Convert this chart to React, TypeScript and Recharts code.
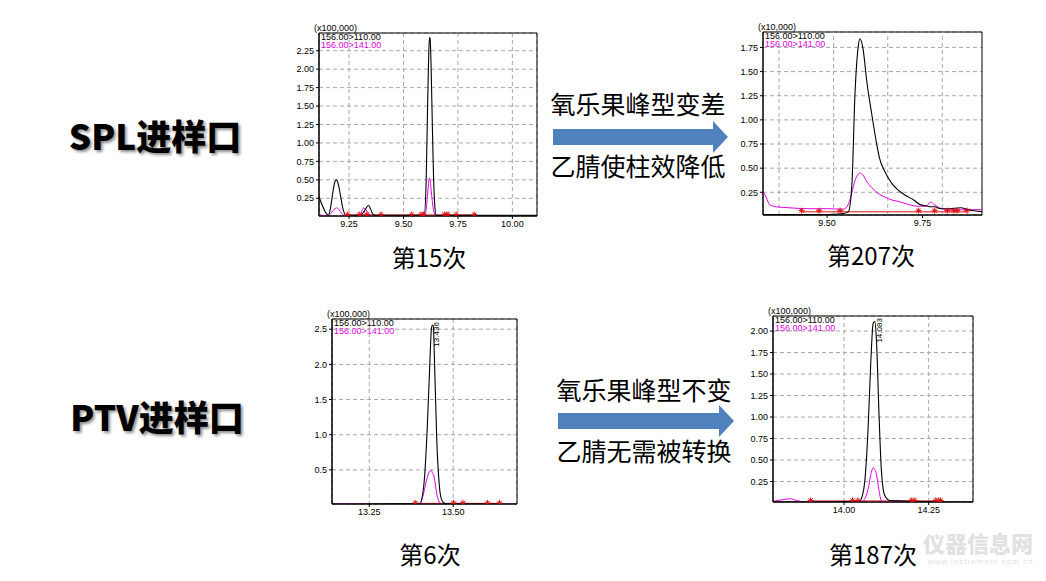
import React from "react";
import {
  ComposedChart,
  Line,
  Scatter,
  XAxis,
  YAxis,
  CartesianGrid,
  ReferenceArea,
  ReferenceLine,
} from "recharts";

// ---------- shared text ----------
const LEGEND_110 = "156.00>110.00";
const LEGEND_141 = "156.00>141.00";

// ---------- SPL 第15次 ----------
const spl15Time = [9.112, 9.125, 9.14, 9.155, 9.165, 9.175, 9.186, 9.193, 9.2, 9.21, 9.221, 9.236, 9.3, 9.31, 9.316, 9.325, 9.339, 9.348, 9.358, 9.37, 9.595, 9.604, 9.61, 9.615, 9.619, 9.622, 9.627, 9.632, 9.637, 9.643, 9.65, 10.113];
const spl15Ion110 = [0.27, 0.17, 0.07, 0.02, 0.12, 0.32, 0.48, 0.5, 0.45, 0.3, 0.12, 0.02, 0.02, 0.04, 0.06, 0.1, 0.155, 0.11, 0.04, 0.02, 0.02, 0.48, 1.4, 2.1, 2.43, 2.42, 2.0, 1.3, 0.65, 0.18, 0.02, 0.02];
const spl15Ion141 = [0.03, 0.02, 0.01, 0.01, 0.04, 0.08, 0.11, 0.12, 0.11, 0.07, 0.03, 0.01, 0.02, 0.09, 0.12, 0.1, 0.05, 0.02, 0.01, 0.01, 0.01, 0.1, 0.28, 0.45, 0.525, 0.51, 0.36, 0.22, 0.1, 0.04, 0.01, 0.01];
const spl15Marks = [9.244, 9.297, 9.331, 9.397, 9.538, 9.58, 9.592, 9.687, 9.696, 9.705, 9.742, 9.825];
const spl15XTicks = [9.25, 9.5, 9.75, 10.0];
const spl15YTicks = [0.25, 0.5, 0.75, 1.0, 1.25, 1.5, 1.75, 2.0, 2.25];

// ---------- SPL 第207次 ----------
const spl207Time = [9.332, 9.34, 9.35, 9.367, 9.4, 9.45, 9.5, 9.543, 9.556, 9.565, 9.573, 9.582, 9.586, 9.594, 9.604, 9.617, 9.63, 9.637, 9.652, 9.67, 9.687, 9.705, 9.727, 9.745, 9.76, 9.771, 9.782, 9.797, 9.82, 9.85, 9.87, 9.906];
const spl207Ion110 = [0.02, 0.02, 0.02, 0.02, 0.02, 0.02, 0.02, 0.03, 0.05, 0.33, 1.26, 1.77, 1.84, 1.74, 1.4, 1.06, 0.75, 0.61, 0.46, 0.34, 0.27, 0.22, 0.17, 0.12, 0.11, 0.1, 0.1, 0.08, 0.08, 0.09, 0.07, 0.05];
const spl207Ion141 = [0.26, 0.2, 0.12, 0.1, 0.09, 0.08, 0.08, 0.075, 0.13, 0.25, 0.37, 0.44, 0.45, 0.43, 0.36, 0.3, 0.25, 0.23, 0.2, 0.17, 0.155, 0.135, 0.11, 0.105, 0.105, 0.15, 0.12, 0.085, 0.07, 0.07, 0.07, 0.07];
const spl207Marks = [9.433, 9.479, 9.534, 9.74, 9.782, 9.815, 9.832, 9.841, 9.867];
const spl207XTicks = [9.5, 9.75];
const spl207XGrid = [9.374, 9.517, 9.659, 9.802];
const spl207YTicks = [0.25, 0.5, 0.75, 1.0, 1.25, 1.5, 1.75];

// ---------- PTV 第6次 ----------
const ptv6Time = [13.139, 13.15, 13.4, 13.412, 13.422, 13.43, 13.435, 13.438, 13.441, 13.444, 13.451, 13.459, 13.466, 13.476, 13.69];
const ptv6Ion110 = [0.01, 0.01, 0.02, 0.26, 1.02, 1.97, 2.5, 2.56, 2.54, 2.1, 0.93, 0.26, 0.07, 0.02, 0.01];
const ptv6Ion141 = [0.04, 0.015, 0.01, 0.17, 0.38, 0.48, 0.49, 0.46, 0.43, 0.38, 0.16, 0.04, 0.015, 0.01, 0.01];
const ptv6Marks = [13.387, 13.501, 13.529, 13.602, 13.638];
const ptv6XTicks = [13.25, 13.5];
const ptv6YTicks = [0.5, 1.0, 1.5, 2.0, 2.5];

// ---------- PTV 第187次 ----------
const ptv187Time = [13.79, 13.82, 13.84, 13.86, 13.88, 14.045, 14.055, 14.061, 14.071, 14.079, 14.086, 14.091, 14.096, 14.103, 14.11, 14.12, 14.135, 14.381];
const ptv187Ion110 = [0.01, 0.01, 0.01, 0.01, 0.01, 0.02, 0.1, 0.245, 0.87, 1.64, 2.09, 2.11, 1.87, 1.06, 0.4, 0.09, 0.03, 0.01];
const ptv187Ion141 = [0.02, 0.04, 0.05, 0.03, 0.015, 0.01, 0.02, 0.05, 0.16, 0.33, 0.41, 0.39, 0.33, 0.15, 0.03, 0.01, 0.01, 0.01];
const ptv187Marks = [13.901, 14.025, 14.041, 14.199, 14.209, 14.271, 14.28, 14.285];
const ptv187XTicks = [14.0, 14.25];
const ptv187YTicks = [0.25, 0.5, 0.75, 1.0, 1.25, 1.5, 1.75, 2.0];

const BLACK = "#000000";
const PINK = "#e000e0";
const RED = "#e01010";
const TICK_FONT = "'Liberation Sans', Arial, sans-serif";
const CJK = "'Noto Sans CJK SC', 'Noto Sans', sans-serif";

const zip = (t: number[], v: number[]) => t.map((x, i) => ({ t: x, v: v[i] }));
const minorTicks = (lo: number, hi: number, step: number) => {
  const out: number[] = [];
  for (let k = Math.ceil(lo / step); k * step <= hi; k++) out.push(+(k * step).toFixed(4));
  return out;
};

const Asterisk = (p: any) => {
  const { cx, cy } = p;
  if (cx == null || cy == null) return <g />;
  const s = 3;
  const d = 2.1;
  return (
    <g stroke={RED} strokeWidth={1}>
      <line x1={cx - s} y1={cy} x2={cx + s} y2={cy} />
      <line x1={cx} y1={cy - s} x2={cx} y2={cy + s} />
      <line x1={cx - d} y1={cy - d} x2={cx + d} y2={cy + d} />
      <line x1={cx - d} y1={cy + d} x2={cx + d} y2={cy - d} />
    </g>
  );
};

const makePeakLabel = (text: string) => (p: any) => {
  const { cx, cy } = p;
  if (cx == null || cy == null) return <g />;
  return (
    <text
      transform={`translate(${cx + 7},${cy}) rotate(-90)`}
      fontSize={8}
      fontFamily={TICK_FONT}
      fill="#000"
      textAnchor="end"
    >
      {text}
    </text>
  );
};

type ChartProps = {
  box: { l: number; t: number; r: number; b: number };
  xDomain: [number, number];
  yDomain: [number, number];
  xTicks: number[];
  yTicks: number[];
  yDigits: number;
  xGrid?: number[];
  time: number[];
  ion110: number[];
  ion141: number[];
  marks: number[];
  markY: number;
  minorStep: number;
  scaleLabel: string;
  peak?: { t: number; v: number; text: string };
};

const Chromatogram = (props: ChartProps) => {
  const { box, xDomain, yDomain, xTicks, yTicks, yDigits, xGrid, time, ion110, ion141, marks, markY, minorStep, scaleLabel, peak } = props;
  const yW = 30;
  const top = 5;
  const xH = 18;
  const right = 2;
  const width = box.r - box.l + yW + right;
  const height = box.b - box.t + top + xH;
  const black = zip(time, ion110);
  const pink = zip(time, ion141);
  const markData = marks.map((t) => ({ t, v: markY }));
  const redLine = [
    { t: marks[0], v: markY * 0.8 },
    { t: marks[marks.length - 1], v: markY * 0.8 },
  ];
  const minor = minorTicks(yDomain[0], yDomain[1], minorStep);
  const txt = { fontSize: 9, fontFamily: TICK_FONT, lineHeight: "9px", whiteSpace: "nowrap" as const, position: "absolute" as const };
  return (
    <>
      <div style={{ ...txt, left: box.l - 5, top: box.t - 9, color: "#000" }}>{scaleLabel}</div>
      <div style={{ ...txt, left: box.l + 2, top: box.t + 0, color: "#000" }}>{LEGEND_110}</div>
      <div style={{ ...txt, left: box.l + 2, top: box.t + 8, color: PINK }}>{LEGEND_141}</div>
      <div style={{ position: "absolute", left: box.l - yW, top: box.t - top }}>
        <ComposedChart width={width} height={height} margin={{ top, right, bottom: 0, left: 0 }}>
          <CartesianGrid
            stroke="#a8a8a8"
            strokeDasharray="4 3"
            vertical={!xGrid}
          />
          <XAxis
            dataKey="t"
            type="number"
            domain={xDomain}
            allowDataOverflow
            ticks={xTicks}
            tickFormatter={(v: number) => v.toFixed(2)}
            height={xH}
            tickSize={3}
            tickMargin={2}
            stroke="#000"
            tick={{ fontSize: 9, fontFamily: TICK_FONT, fill: "#000" }}
            interval={0}
          />
          <YAxis
            type="number"
            domain={yDomain}
            allowDataOverflow
            ticks={yTicks}
            tickFormatter={(v: number) => v.toFixed(yDigits)}
            width={yW}
            tickSize={3}
            tickMargin={2}
            stroke="#000"
            tick={{ fontSize: 9, fontFamily: TICK_FONT, fill: "#000" }}
            interval={0}
          />
          <YAxis
            yAxisId="minor"
            type="number"
            domain={yDomain}
            allowDataOverflow
            ticks={minor}
            mirror
            width={0}
            tick={false}
            tickSize={2}
            axisLine={false}
            stroke="#000"
            interval={0}
          />
          {xGrid &&
            xGrid.map((g) => (
              <ReferenceLine key={g} x={g} stroke="#a8a8a8" strokeDasharray="4 3" />
            ))}
          <Line data={redLine} dataKey="v" stroke={RED} strokeWidth={1} dot={false} isAnimationActive={false} />
          <Line data={pink} dataKey="v" type="monotone" stroke={PINK} strokeWidth={1} dot={false} isAnimationActive={false} />
          <Line data={black} dataKey="v" type="monotone" stroke={BLACK} strokeWidth={1.1} dot={false} isAnimationActive={false} />
          <Scatter data={markData} dataKey="v" shape={Asterisk} isAnimationActive={false} />
          {peak && (
            <Scatter data={[{ t: peak.t, v: peak.v }]} dataKey="v" shape={makePeakLabel(peak.text)} isAnimationActive={false} />
          )}
          <ReferenceArea x1={xDomain[0]} x2={xDomain[1]} y1={yDomain[0]} y2={yDomain[1]} fill="none" stroke="#000" strokeWidth={1} />
        </ComposedChart>
      </div>
    </>
  );
};

const Arrow = ({ left, top, width }: { left: number; top: number; width: number }) => (
  <svg style={{ position: "absolute", left, top }} width={width} height={32}>
    <polygon
      points={`0,8 ${width - 15},8 ${width - 15},0 ${width},16 ${width - 15},32 ${width - 15},24 0,24`}
      fill="#4f81bd"
    />
  </svg>
);

const Label = ({ text, cx, cy, size, bold, shadow, color }: { text: string; cx: number; cy: number; size: number; bold?: boolean; shadow?: boolean; color?: string }) => (
  <div
    style={{
      position: "absolute",
      left: cx,
      top: cy - size / 2,
      transform: "translateX(-50%)",
      height: size,
      lineHeight: `${size}px`,
      fontFamily: CJK,
      fontSize: size,
      fontWeight: bold ? 900 : 400,
      color: color || "#000",
      whiteSpace: "nowrap",
      textShadow: shadow ? "2px 2px 3px rgba(0,0,0,0.45)" : undefined,
    }}
  >
    {text}
  </div>
);

export default function App() {
  return (
    <div style={{ position: "absolute", left: 0, top: 0, width: 1046, height: 581, background: "#fff", overflow: "hidden" }}>
      <Label text="SPL进样口" cx={155} cy={134} size={35} bold shadow />
      <Label text="PTV进样口" cx={157} cy={415} size={35} bold shadow />

      <Chromatogram
        box={{ l: 319, t: 33, r: 537, b: 216 }}
        xDomain={[9.112, 10.113]}
        yDomain={[0.01, 2.49]}
        xTicks={spl15XTicks}
        yTicks={spl15YTicks}
        yDigits={2}
        time={spl15Time}
        ion110={spl15Ion110}
        ion141={spl15Ion141}
        marks={spl15Marks}
        markY={0.03}
        minorStep={0.05}
        scaleLabel="(x100,000)"
      />
      <Chromatogram
        box={{ l: 763, t: 32, r: 982, b: 215 }}
        xDomain={[9.332, 9.906]}
        yDomain={[0.015, 1.91]}
        xTicks={spl207XTicks}
        yTicks={spl207YTicks}
        yDigits={2}
        xGrid={spl207XGrid}
        time={spl207Time}
        ion110={spl207Ion110}
        ion141={spl207Ion141}
        marks={spl207Marks}
        markY={0.06}
        minorStep={0.05}
        scaleLabel="(x10,000)"
      />
      <Chromatogram
        box={{ l: 332, t: 319, r: 517, b: 504 }}
        xDomain={[13.139, 13.69]}
        yDomain={[0.015, 2.645]}
        xTicks={ptv6XTicks}
        yTicks={ptv6YTicks}
        yDigits={1}
        time={ptv6Time}
        ion110={ptv6Ion110}
        ion141={ptv6Ion141}
        marks={ptv6Marks}
        markY={0.03}
        minorStep={0.1}
        scaleLabel="(x100,000)"
        peak={{ t: 13.438, v: 2.6, text: "13.436" }}
      />
      <Chromatogram
        box={{ l: 773, t: 316, r: 973, b: 502 }}
        xDomain={[13.79, 14.381]}
        yDomain={[0.012, 2.175]}
        xTicks={ptv187XTicks}
        yTicks={ptv187YTicks}
        yDigits={2}
        time={ptv187Time}
        ion110={ptv187Ion110}
        ion141={ptv187Ion141}
        marks={ptv187Marks}
        markY={0.03}
        minorStep={0.05}
        scaleLabel="(x100,000)"
        peak={{ t: 14.091, v: 2.15, text: "14.083" }}
      />

      <Label text="氧乐果峰型变差" cx={638} cy={103} size={25} />
      <Arrow left={553} top={121} width={175} />
      <Label text="乙腈使柱效降低" cx={638} cy={165} size={25} />

      <Label text="氧乐果峰型不变" cx={644} cy={389} size={25} />
      <Arrow left={558} top={405} width={176} />
      <Label text="乙腈无需被转换" cx={644} cy={450} size={25} />

      <Label text="第15次" cx={429} cy={257} size={24} />
      <Label text="第207次" cx={871} cy={255} size={24} />
      <Label text="第6次" cx={430} cy={554} size={24} />
      <Label text="第187次" cx={873} cy={554} size={24} />

      <Label text="仪器信息网" cx={978} cy={542} size={22} bold color="rgba(200,200,200,0.55)" />
      <div style={{ position: "absolute", left: 928, top: 557, fontSize: 8, lineHeight: "9px", fontFamily: TICK_FONT, color: "rgba(200,200,200,0.6)", letterSpacing: 1 }}>
        www.instrument.com.cn
      </div>
    </div>
  );
}
